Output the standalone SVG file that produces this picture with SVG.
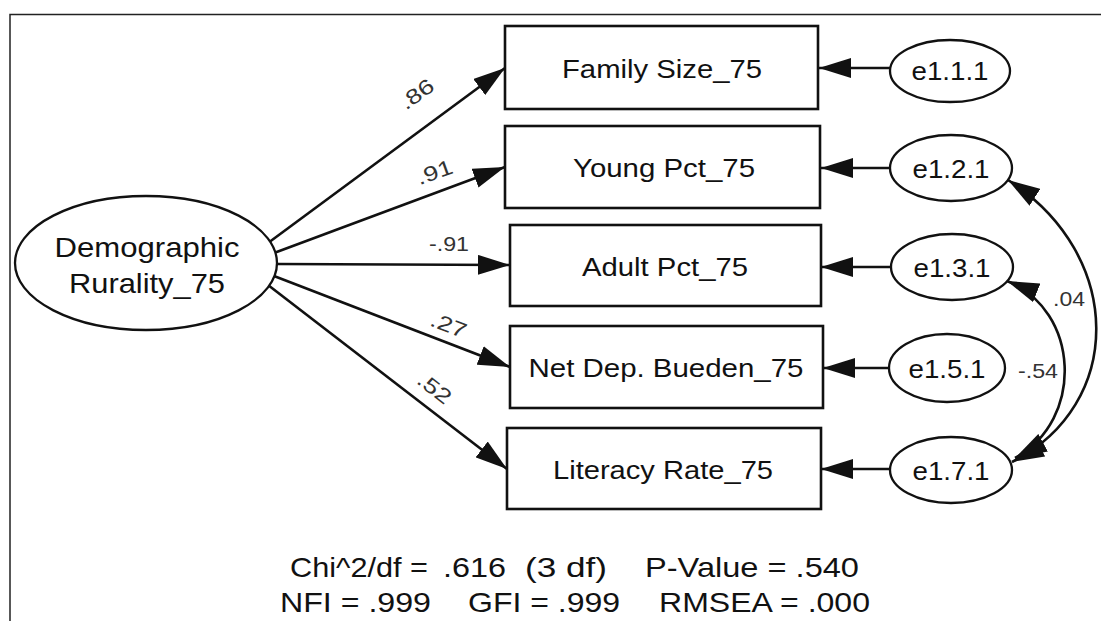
<svg xmlns="http://www.w3.org/2000/svg" width="1101" height="621" viewBox="0 0 1101 621">
<style>
  .frame{stroke:#222;stroke-width:1.5;fill:none}
  .box{fill:#fff;stroke:#111;stroke-width:2.6}
  .ell{fill:#fff;stroke:#111;stroke-width:2.3}
  .lbl{font-family:"Liberation Sans",Arial,sans-serif;font-size:26px;fill:#111;text-anchor:middle}
  .big{font-family:"Liberation Sans",Arial,sans-serif;font-size:28px;fill:#111;text-anchor:middle}
  .coef{font-family:"Liberation Sans",Arial,sans-serif;font-size:21px;fill:#333;text-anchor:middle}
  .fit{font-family:"Liberation Sans",Arial,sans-serif;font-size:28px;fill:#111}
  .con{stroke:#111;stroke-width:2.6;fill:none}
</style>
<defs>
  <marker id="ah" viewBox="0 0 32 20" refX="32" refY="10" markerWidth="32" markerHeight="20" markerUnits="userSpaceOnUse" orient="auto">
    <path d="M0,0 L32,10 L0,20 z" fill="#111"/>
  </marker>
  <marker id="ah2" viewBox="0 0 32 20" refX="32" refY="10" markerWidth="32" markerHeight="20" markerUnits="userSpaceOnUse" orient="auto-start-reverse">
    <path d="M0,0 L32,10 L0,20 z" fill="#111"/>
  </marker>
</defs>
<rect width="1101" height="621" fill="#fff"/>
<path class="frame" d="M10,621 L10,14.5 L1101,14.5"/>

<g id="connectors">
  <path class="con" d="M268,243 L505,68" marker-end="url(#ah)"/>
  <path class="con" d="M274,253 L505,167" marker-end="url(#ah)"/>
  <path class="con" d="M277,264 L510,265" marker-end="url(#ah)"/>
  <path class="con" d="M274,276 L510,367" marker-end="url(#ah)"/>
  <path class="con" d="M268,285 L507,469" marker-end="url(#ah)"/>
  <path class="con" d="M890,68 L819,68" marker-end="url(#ah)"/>
  <path class="con" d="M890,168 L821,168" marker-end="url(#ah)"/>
  <path class="con" d="M892,267 L821,267" marker-end="url(#ah)"/>
  <path class="con" d="M889,368 L823,368" marker-end="url(#ah)"/>
  <path class="con" d="M890,469 L821,469" marker-end="url(#ah)"/>
  <path class="con" d="M1008,180 C1125,255 1125,405 1012,462" marker-start="url(#ah2)" marker-end="url(#ah2)"/>
  <path class="con" d="M1007,281 C1080,310 1085,420 1015,458" marker-start="url(#ah2)" marker-end="url(#ah2)"/>
  <text class="coef" transform="translate(421,100) rotate(-36)" textLength="37" lengthAdjust="spacingAndGlyphs">.86</text>
  <text class="coef" transform="translate(437,179) rotate(-20)" textLength="37" lengthAdjust="spacingAndGlyphs">.91</text>
  <text class="coef" x="449" y="251" textLength="40" lengthAdjust="spacingAndGlyphs">-.91</text>
  <text class="coef" transform="translate(446,332) rotate(21)" textLength="37" lengthAdjust="spacingAndGlyphs">.27</text>
  <text class="coef" transform="translate(430,394) rotate(38)" textLength="37" lengthAdjust="spacingAndGlyphs">.52</text>
  <text class="coef" x="1069" y="306" textLength="32" lengthAdjust="spacingAndGlyphs">.04</text>
  <text class="coef" x="1038" y="378" textLength="40" lengthAdjust="spacingAndGlyphs">-.54</text>
</g>

<g id="demographic">
  <ellipse class="ell" cx="146" cy="263" rx="131" ry="67"/>
  <text class="big" x="147" y="257" textLength="185" lengthAdjust="spacingAndGlyphs">Demographic</text>
  <text class="big" x="147" y="293" textLength="156" lengthAdjust="spacingAndGlyphs">Rurality_75</text>
</g>

<g id="family">
  <rect class="box" x="505" y="26" width="313" height="83"/>
  <text class="lbl" x="662" y="78" textLength="200" lengthAdjust="spacingAndGlyphs">Family Size_75</text>
</g>
<g id="young">
  <rect class="box" x="505" y="126" width="315" height="82"/>
  <text class="lbl" x="664" y="177" textLength="182" lengthAdjust="spacingAndGlyphs">Young Pct_75</text>
</g>
<g id="adult">
  <rect class="box" x="510" y="225" width="311" height="81"/>
  <text class="lbl" x="665" y="276" textLength="166" lengthAdjust="spacingAndGlyphs">Adult Pct_75</text>
</g>
<g id="netdep">
  <rect class="box" x="510" y="326" width="313" height="82"/>
  <text class="lbl" x="666" y="377" textLength="275" lengthAdjust="spacingAndGlyphs">Net Dep. Bueden_75</text>
</g>
<g id="literacy">
  <rect class="box" x="507" y="428" width="314" height="81"/>
  <text class="lbl" x="663" y="479" textLength="220" lengthAdjust="spacingAndGlyphs">Literacy Rate_75</text>
</g>

<g id="e111">
  <ellipse class="ell" cx="950" cy="71" rx="60" ry="31"/>
  <text class="lbl" x="950" y="80" textLength="77" lengthAdjust="spacingAndGlyphs">e1.1.1</text>
</g>
<g id="e121">
  <ellipse class="ell" cx="951" cy="168" rx="61" ry="33"/>
  <text class="lbl" x="951" y="178" textLength="77" lengthAdjust="spacingAndGlyphs">e1.2.1</text>
</g>
<g id="e131">
  <ellipse class="ell" cx="952" cy="267" rx="61" ry="33"/>
  <text class="lbl" x="952" y="277" textLength="77" lengthAdjust="spacingAndGlyphs">e1.3.1</text>
</g>
<g id="e151">
  <ellipse class="ell" cx="947" cy="368" rx="58" ry="34"/>
  <text class="lbl" x="947" y="378" textLength="77" lengthAdjust="spacingAndGlyphs">e1.5.1</text>
</g>
<g id="e171">
  <ellipse class="ell" cx="951" cy="470" rx="61" ry="33"/>
  <text class="lbl" x="951" y="480" textLength="77" lengthAdjust="spacingAndGlyphs">e1.7.1</text>
</g>

<g id="fit">
  <text class="fit" x="290" y="577" textLength="138" lengthAdjust="spacingAndGlyphs">Chi^2/df =</text>
  <text class="fit" x="443" y="577" textLength="63" lengthAdjust="spacingAndGlyphs">.616</text>
  <text class="fit" x="525" y="577" textLength="82" lengthAdjust="spacingAndGlyphs">(3 df)</text>
  <text class="fit" x="645" y="577" textLength="214" lengthAdjust="spacingAndGlyphs">P-Value = .540</text>
  <text class="fit" x="280" y="612" textLength="151" lengthAdjust="spacingAndGlyphs">NFI = .999</text>
  <text class="fit" x="468" y="612" textLength="152" lengthAdjust="spacingAndGlyphs">GFI = .999</text>
  <text class="fit" x="659" y="612" textLength="211" lengthAdjust="spacingAndGlyphs">RMSEA = .000</text>
</g>
</svg>
